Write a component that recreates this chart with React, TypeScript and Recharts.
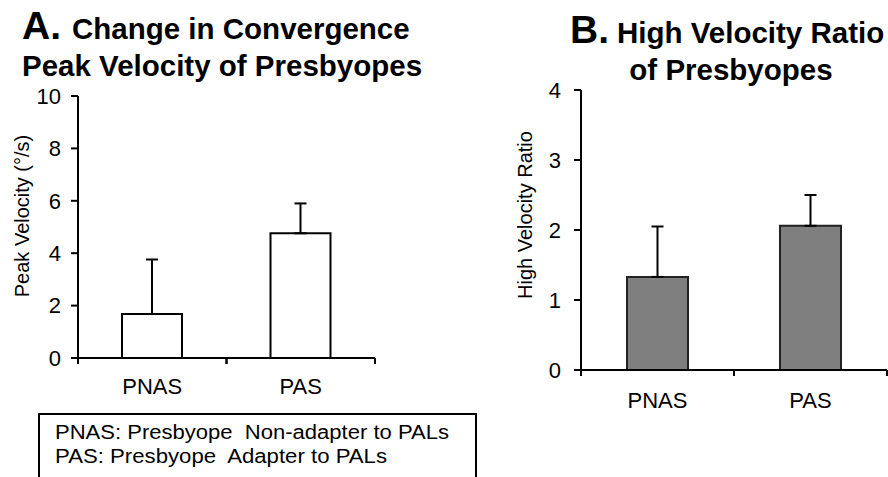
import { BarChart, Bar, XAxis, YAxis, ErrorBar, Label } from "recharts";

const groups = ["PNAS", "PAS"];
const peakVelocity = [1.68, 4.76];
const peakVelocityErr = [2.08, 1.14];
const highVelocityRatio = [1.33, 2.06];
const highVelocityRatioErr = [0.72, 0.44];
const ticksA = [0, 2, 4, 6, 8, 10];
const ticksB = [0, 1, 2, 3, 4];
const legendLines = [
  "PNAS: Presbyope  Non-adapter to PALs",
  "PAS: Presbyope  Adapter to PALs",
];

const FONT = "'Liberation Sans', Arial, Helvetica, sans-serif";

const dataA = groups.map((g, i) => ({
  name: g,
  value: peakVelocity[i],
  err: [0, peakVelocityErr[i]],
}));
const dataB = groups.map((g, i) => ({
  name: g,
  value: highVelocityRatio[i],
  err: [0, highVelocityRatioErr[i]],
}));

// category tick: label under the bar, small tick marks at the band edges
function makeCatTick(halfBand: number, labelDy: number) {
  return (props: any) => {
    const { x, y, payload } = props;
    const half = payload && payload.offset ? payload.offset : halfBand;
    return (
      <g>
        <line x1={x - half} x2={x - half} y1={y} y2={y + 6} stroke="#000" strokeWidth={2} />
        <line x1={x + half} x2={x + half} y1={y} y2={y + 6} stroke="#000" strokeWidth={2} />
        <text x={x} y={y + labelDy} textAnchor="middle" fontSize={22} fill="#000" fontFamily={FONT}>
          {payload.value}
        </text>
      </g>
    );
  };
}

const tickStyle = { fontSize: 22, fill: "#000", fontFamily: FONT };
const lineStyle = { stroke: "#000", strokeWidth: 2 };

export default function App() {
  return (
    <div
      style={{
        position: "absolute",
        left: 0,
        top: 0,
        width: 888,
        height: 477,
        background: "#fff",
        overflow: "hidden",
      }}
    >
      <div style={{ position: "absolute", left: 0, top: 0 }}>
        <BarChart width={400} height={420} data={dataA} margin={{ top: 96, right: 25, bottom: 0, left: 0 }}>
          <XAxis
            dataKey="name"
            height={62}
            axisLine={lineStyle}
            tickLine={false}
            tickSize={0}
            tickMargin={0}
            tick={makeCatTick(74, 36)}
          />
          <YAxis
            width={78}
            domain={[0, 10]}
            ticks={ticksA}
            interval={0}
            axisLine={lineStyle}
            tickLine={lineStyle}
            tickSize={7}
            tickMargin={10}
            tick={tickStyle}
            label={
              <Label
                content={() => (
                  <text
                    transform="translate(22,216) rotate(-90)"
                    textAnchor="middle"
                    dominantBaseline="central"
                    fontSize={20}
                    fill="#000"
                    fontFamily={FONT}
                  >
                    Peak Velocity (°/s)
                  </text>
                )}
              />
            }
          />
          <Bar dataKey="value" barSize={60} fill="#fff" stroke="#000" strokeWidth={2} isAnimationActive={false}>
            <ErrorBar dataKey="err" direction="y" width={6} stroke="#000" strokeWidth={2} />
          </Bar>
        </BarChart>
      </div>

      <div style={{ position: "absolute", left: 480, top: 0 }}>
        <BarChart width={408} height={430} data={dataB} margin={{ top: 90, right: 1, bottom: 0, left: 0 }}>
          <XAxis
            dataKey="name"
            height={60}
            axisLine={lineStyle}
            tickLine={false}
            tickSize={0}
            tickMargin={0}
            tick={makeCatTick(76.5, 38)}
          />
          <YAxis
            width={101}
            domain={[0, 4]}
            ticks={ticksB}
            interval={0}
            axisLine={lineStyle}
            tickLine={lineStyle}
            tickSize={7}
            tickMargin={13}
            tick={tickStyle}
            label={
              <Label
                content={() => (
                  <text
                    transform="translate(45,215) rotate(-90)"
                    textAnchor="middle"
                    dominantBaseline="central"
                    fontSize={20}
                    fill="#000"
                    fontFamily={FONT}
                  >
                    High Velocity Ratio
                  </text>
                )}
              />
            }
          />
          <Bar dataKey="value" barSize={61} fill="#7f7f7f" stroke="#222" strokeWidth={2} isAnimationActive={false}>
            <ErrorBar dataKey="err" direction="y" width={6} stroke="#000" strokeWidth={2} />
          </Bar>
        </BarChart>
      </div>

      <svg
        width={888}
        height={477}
        style={{ position: "absolute", left: 0, top: 0, pointerEvents: "none" }}
        fontFamily={FONT}
      >
        <text x={22} y={39} fontWeight="bold" fill="#000">
          <tspan fontSize={39}>A.</tspan>
          <tspan fontSize={29.5} x={72}>Change in Convergence</tspan>
        </text>
        <text x={22} y={76} fontWeight="bold" fontSize={29.5} fill="#000">
          Peak Velocity of Presbyopes
        </text>
        <text x={570} y={43} fontWeight="bold" fill="#000">
          <tspan fontSize={39}>B.</tspan>
          <tspan fontSize={29.5} x={617}>High Velocity Ratio</tspan>
        </text>
        <text x={731} y={80} fontWeight="bold" fontSize={29.5} fill="#000" textAnchor="middle">
          of Presbyopes
        </text>

        <rect x={39} y={414} width={437} height={80} fill="none" stroke="#000" strokeWidth={2} />
        <text x={55} y={439} fontSize={20} fill="#000" style={{ whiteSpace: "pre" }} textLength={394} lengthAdjust="spacingAndGlyphs">
          {legendLines[0]}
        </text>
        <text x={55} y={463} fontSize={20} fill="#000" style={{ whiteSpace: "pre" }} textLength={332} lengthAdjust="spacingAndGlyphs">
          {legendLines[1]}
        </text>
      </svg>
    </div>
  );
}
